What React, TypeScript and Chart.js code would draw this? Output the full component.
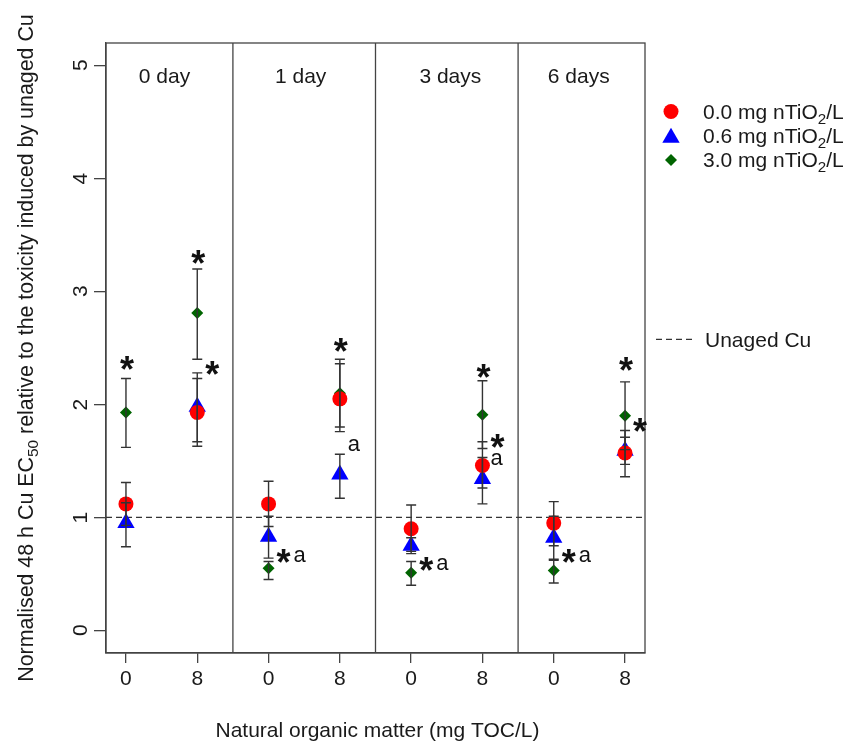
import React, { useEffect, useRef } from 'react';
import { Chart, registerables } from 'chart.js';

Chart.register(...registerables);

// ---------- data ----------
const PANELS = ['0 day', '1 day', '3 days', '6 days'];
const PANEL_LABEL_X = [1.54, 3.45, 5.55, 7.35];
const NOM_LEVELS = ['0', '8'];
const POSITIONS = [1, 2, 3, 4, 5, 6, 7, 8];
const X_MIN = 0.72;
const X_MAX = 8.28;
const Y_MIN = -0.2;
const Y_MAX = 5.2;
const Y_TICKS = [0, 1, 2, 3, 4, 5];
const REFERENCE_LEVEL = 1;

const SERIES_LABELS = ['0.0 mg nTiO_{2}/L', '0.6 mg nTiO_{2}/L', '3.0 mg nTiO_{2}/L'];
const REFERENCE_LABEL = 'Unaged Cu';
const X_TITLE = 'Natural organic matter (mg TOC/L)';
const Y_TITLE = 'Normalised 48 h Cu EC_{50} relative to the toxicity induced by unaged Cu';

const TIO0_MEAN = [1.12, 1.93, 1.12, 2.05, 0.9, 1.46, 0.95, 1.57];
const TIO0_LO = [0.93, 1.63, 0.92, 1.76, 0.7, 1.26, 0.75, 1.36];
const TIO0_HI = [1.31, 2.23, 1.32, 2.36, 1.11, 1.67, 1.14, 1.77];

const TIO06_MEAN = [0.95, 1.98, 0.83, 1.38, 0.75, 1.34, 0.82, 1.59];
const TIO06_LO = [0.74, 1.67, 0.64, 1.17, 0.68, 1.12, 0.63, 1.47];
const TIO06_HI = [1.13, 2.28, 1.01, 1.56, 0.82, 1.53, 1.01, 1.71];

const TIO3_MEAN = [1.93, 2.81, 0.55, 2.1, 0.51, 1.91, 0.53, 1.9];
const TIO3_LO = [1.62, 2.4, 0.45, 1.8, 0.4, 1.61, 0.42, 1.6];
const TIO3_HI = [2.23, 3.2, 0.61, 2.4, 0.61, 2.21, 0.62, 2.2];

// significance annotations
const ANNOT_POS = [1, 2, 2, 3, 4, 4, 5, 6, 6, 6, 7, 8, 8];
const ANNOT_TEXT = ['*', '*', '*', '*a', '*', 'a', '*a', '*', '*', 'a', '*a', '*', '*'];
const ANNOT_Y = [2.37, 3.31, 2.32, 0.66, 2.53, 1.64, 0.59, 2.3, 1.68, 1.52, 0.66, 2.36, 1.82];
const ANNOT_SIDE = ['top', 'top', 'right', 'right', 'top', 'right', 'right', 'top', 'right', 'right', 'right', 'top', 'right'];

// ---------- styles ----------
const FONT = '"Liberation Sans", Arimo, Arial, sans-serif';
const FS = 21;
const STAR_FONT = `bold 36px ${FONT}`;
const TEXT = '#1a1a1a';
const AXIS = '#444';
const COLORS = ['#ff0000', '#0000ff', '#006400'];
const STYLES = ['circle', 'triangle', 'rectRot'];
const RADII = [7.5, 10, 6];

const MEANS = [TIO0_MEAN, TIO06_MEAN, TIO3_MEAN];
const LOS = [TIO0_LO, TIO06_LO, TIO3_LO];
const HIS = [TIO0_HI, TIO06_HI, TIO3_HI];

function parseRich(text: string) {
  const parts: { t: string; sub: boolean }[] = [];
  const re = /_\{([^}]*)\}/g;
  let last = 0;
  let m: RegExpExecArray | null;
  while ((m = re.exec(text))) {
    if (m.index > last) parts.push({ t: text.slice(last, m.index), sub: false });
    parts.push({ t: m[1], sub: true });
    last = m.index + m[0].length;
  }
  if (last < text.length) parts.push({ t: text.slice(last), sub: false });
  return parts;
}

function drawRich(ctx: CanvasRenderingContext2D, text: string, x: number, y: number, size: number, align: 'left' | 'center') {
  const parts = parseRich(text);
  const subSize = size * 0.72;
  let total = 0;
  for (const p of parts) {
    ctx.font = `${p.sub ? subSize : size}px ${FONT}`;
    total += ctx.measureText(p.t).width;
  }
  let cx = align === 'center' ? x - total / 2 : x;
  ctx.textAlign = 'left';
  ctx.textBaseline = 'alphabetic';
  for (const p of parts) {
    ctx.font = `${p.sub ? subSize : size}px ${FONT}`;
    ctx.fillText(p.t, cx, p.sub ? y + size * 0.22 : y);
    cx += ctx.measureText(p.t).width;
  }
}

function drawGlyphCentered(ctx: CanvasRenderingContext2D, ch: string, cx: number, cy: number, font: string) {
  ctx.font = font;
  ctx.textAlign = 'left';
  ctx.textBaseline = 'alphabetic';
  const m = ctx.measureText(ch);
  const x = cx - (m.actualBoundingBoxRight - m.actualBoundingBoxLeft) / 2;
  const y = cy + (m.actualBoundingBoxAscent - m.actualBoundingBoxDescent) / 2;
  ctx.fillText(ch, x, y);
  return m.actualBoundingBoxRight + m.actualBoundingBoxLeft;
}

function drawMarker(ctx: CanvasRenderingContext2D, style: string, x: number, y: number, r: number, color: string) {
  ctx.fillStyle = color;
  ctx.beginPath();
  if (style === 'circle') {
    ctx.arc(x, y, r, 0, Math.PI * 2);
  } else if (style === 'triangle') {
    ctx.moveTo(x, y - r);
    ctx.lineTo(x + r * Math.sin((2 * Math.PI) / 3), y - r * Math.cos((2 * Math.PI) / 3));
    ctx.lineTo(x + r * Math.sin((4 * Math.PI) / 3), y - r * Math.cos((4 * Math.PI) / 3));
    ctx.closePath();
  } else {
    ctx.moveTo(x, y - r);
    ctx.lineTo(x + r, y);
    ctx.lineTo(x, y + r);
    ctx.lineTo(x - r, y);
    ctx.closePath();
  }
  ctx.fill();
}

const decorPlugin = {
  id: 'decor',
  beforeDatasetsDraw(chart: any) {
    const { ctx, chartArea: a, scales } = chart;
    const xs = scales.x;
    const ys = scales.y;
    ctx.save();
    ctx.strokeStyle = AXIS;
    ctx.lineWidth = 1.3;
    ctx.strokeRect(a.left, a.top, a.right - a.left, a.bottom - a.top);
    // panel dividers between panels
    for (let p = 1; p < PANELS.length; p++) {
      const xv = (POSITIONS[p * 2 - 1] + POSITIONS[p * 2]) / 2;
      const px = xs.getPixelForValue(xv);
      ctx.beginPath();
      ctx.moveTo(px, a.top);
      ctx.lineTo(px, a.bottom);
      ctx.stroke();
    }
    ctx.fillStyle = TEXT;
    // panel labels
    PANELS.forEach((lab, i) => {
      ctx.font = `${FS}px ${FONT}`;
      ctx.textAlign = 'center';
      ctx.textBaseline = 'alphabetic';
      ctx.fillText(lab, xs.getPixelForValue(PANEL_LABEL_X[i]), a.top + 40);
    });
    // rotated y tick labels
    Y_TICKS.forEach((v) => {
      const py = ys.getPixelForValue(v);
      ctx.save();
      ctx.translate(a.left - 26.5, py);
      ctx.rotate(-Math.PI / 2);
      drawGlyphCentered(ctx, String(v), 0, 0, `${FS}px ${FONT}`);
      ctx.restore();
    });
    // y title
    ctx.save();
    ctx.translate(a.left - 73, (a.top + a.bottom) / 2);
    ctx.rotate(-Math.PI / 2);
    drawRich(ctx, Y_TITLE, 0, 0, FS + 0.4, 'center');
    ctx.restore();
    // x title
    drawRich(ctx, X_TITLE, (a.left + a.right) / 2 + 2, a.bottom + 84, FS, 'center');
    // legend
    const lx = a.right + 26;
    const tx = a.right + 58;
    SERIES_LABELS.forEach((lab, i) => {
      const ry = a.top + 68.5 + i * 24.2;
      drawMarker(ctx, STYLES[i], lx, ry + (STYLES[i] === 'triangle' ? 2 : 0), RADII[i], COLORS[i]);
      ctx.fillStyle = TEXT;
      drawRich(ctx, lab, tx, ry + 7.5, FS, 'left');
    });
    const uy = a.top + 296.3;
    ctx.strokeStyle = '#333';
    ctx.lineWidth = 1.3;
    ctx.setLineDash([6, 4]);
    ctx.beginPath();
    ctx.moveTo(a.right + 11, uy);
    ctx.lineTo(a.right + 47, uy);
    ctx.stroke();
    ctx.setLineDash([]);
    ctx.fillStyle = TEXT;
    drawRich(ctx, REFERENCE_LABEL, a.right + 60, uy + 7.5, FS, 'left');
    ctx.restore();
  },
  afterDatasetsDraw(chart: any) {
    const { ctx, scales } = chart;
    const xs = scales.x;
    const ys = scales.y;
    ctx.save();
    ctx.strokeStyle = '#333';
    ctx.lineWidth = 1.4;
    for (let s = 0; s < MEANS.length; s++) {
      POSITIONS.forEach((xv, i) => {
        const px = xs.getPixelForValue(xv);
        const y1 = ys.getPixelForValue(LOS[s][i]);
        const y2 = ys.getPixelForValue(HIS[s][i]);
        ctx.beginPath();
        ctx.moveTo(px, y1);
        ctx.lineTo(px, y2);
        ctx.moveTo(px - 5, y1);
        ctx.lineTo(px + 5, y1);
        ctx.moveTo(px - 5, y2);
        ctx.lineTo(px + 5, y2);
        ctx.stroke();
      });
    }
    // annotations
    ctx.fillStyle = '#111';
    ANNOT_TEXT.forEach((txt, k) => {
      const px = xs.getPixelForValue(ANNOT_POS[k]);
      const py = ys.getPixelForValue(ANNOT_Y[k]);
      if (ANNOT_SIDE[k] === 'top') {
        drawGlyphCentered(ctx, txt, px + 1, py, STAR_FONT);
      } else {
        let cursor = px + 8;
        for (const ch of txt) {
          const font = ch === '*' ? STAR_FONT : `${FS + 1}px ${FONT}`;
          ctx.font = font;
          const m = ctx.measureText(ch);
          const w = m.actualBoundingBoxRight + m.actualBoundingBoxLeft;
          drawGlyphCentered(ctx, ch, cursor + w / 2, py, font);
          cursor += w + 3;
        }
      }
    });
    ctx.restore();
  },
};

export default function App() {
  const ref = useRef<HTMLCanvasElement | null>(null);
  useEffect(() => {
    if (!ref.current) return;
    const datasets: any[] = SERIES_LABELS.map((lab, s) => ({
      type: 'scatter',
      label: lab,
      data: POSITIONS.map((x, i) => ({ x, y: MEANS[s][i] })),
      pointStyle: STYLES[s],
      pointRadius: RADII[s],
      pointBackgroundColor: COLORS[s],
      backgroundColor: COLORS[s],
      pointBorderWidth: 0,
      borderWidth: 0,
      showLine: false,
    }));
    datasets.push({
      type: 'line',
      label: REFERENCE_LABEL,
      data: [
        { x: X_MIN, y: REFERENCE_LEVEL },
        { x: X_MAX, y: REFERENCE_LEVEL },
      ],
      borderColor: '#333',
      borderWidth: 1.3,
      borderDash: [6, 4],
      pointRadius: 0,
      fill: false,
    });
    const chart = new Chart(ref.current, {
      type: 'scatter',
      data: { datasets },
      options: {
        animation: false,
        responsive: false,
        events: [],
        layout: { padding: { left: 0, right: 216, top: 43, bottom: 0 } },
        plugins: { legend: { display: false }, tooltip: { enabled: false } },
        scales: {
          x: {
            type: 'linear',
            min: X_MIN,
            max: X_MAX,
            afterBuildTicks: (s: any) => {
              s.ticks = POSITIONS.map((v) => ({ value: v }));
            },
            afterFit: (s: any) => {
              s.height = 91;
            },
            grid: { drawOnChartArea: false, drawTicks: true, tickLength: 10, color: AXIS, lineWidth: 1.3 },
            border: { display: true, color: AXIS, width: 1.3 },
            ticks: {
              callback: (v: any) => NOM_LEVELS[(Math.round(Number(v)) - 1) % 2],
              font: { family: FONT, size: FS },
              color: TEXT,
              padding: 4,
              maxRotation: 0,
              minRotation: 0,
              autoSkip: false,
            },
          },
          y: {
            type: 'linear',
            min: Y_MIN,
            max: Y_MAX,
            afterBuildTicks: (s: any) => {
              s.ticks = Y_TICKS.map((v) => ({ value: v }));
            },
            afterFit: (s: any) => {
              s.width = 106;
            },
            grid: { drawOnChartArea: false, drawTicks: true, tickLength: 12, color: AXIS, lineWidth: 1.3 },
            border: { display: true, color: AXIS, width: 1.3 },
            ticks: { color: 'rgba(0,0,0,0)', font: { family: FONT, size: FS } },
          },
        },
      },
      plugins: [decorPlugin],
    } as any);
    return () => chart.destroy();
  }, []);
  return (
    <div style={{ position: 'absolute', left: 0, top: 0, width: 861, height: 744, background: '#fff' }}>
      <canvas ref={ref} width={861} height={744} style={{ display: 'block' }} />
    </div>
  );
}
